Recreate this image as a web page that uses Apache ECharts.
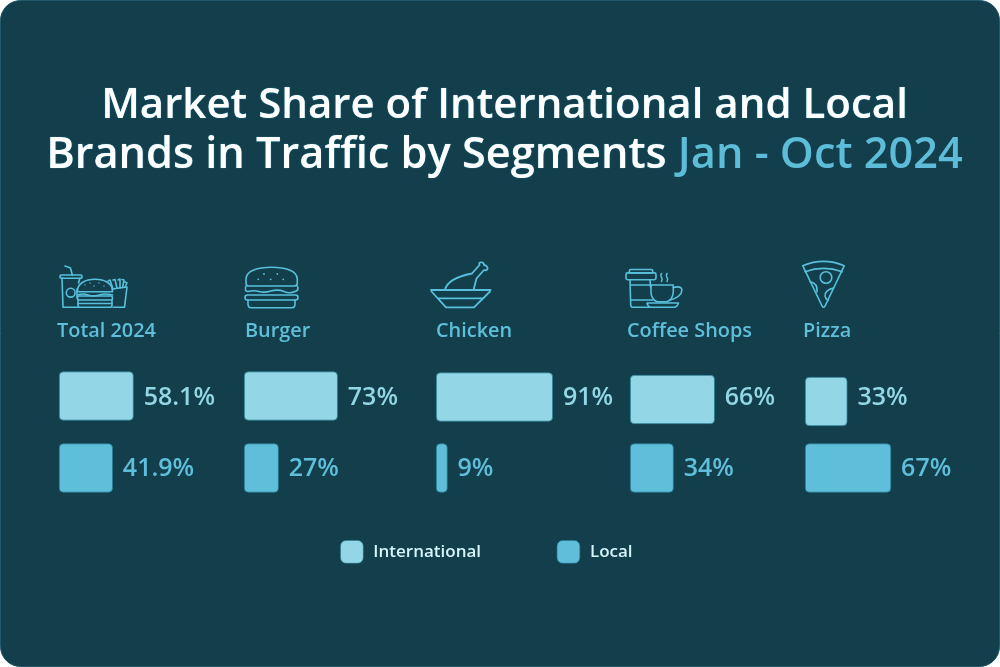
<!DOCTYPE html>
<html>
<head>
<meta charset="utf-8">
<style>html,body{margin:0;padding:0;background:#ffffff}#c{width:1000px;height:667px}</style>
<script src="https://cdn.jsdelivr.net/npm/echarts@6/dist/echarts.min.js"></script>
</head>
<body>
<div id="c"></div>
<script>
var segments = ['Total 2024', 'Burger', 'Chicken', 'Coffee Shops', 'Pizza'];
var groups = ['International', 'Local'];
var international = [58.1, 73, 91, 66, 33];
var local = [41.9, 27, 9, 34, 67];

var BG = '#133e4b', LIGHT = '#93d6e6', MID = '#5fbfda', ICON = '#58c0dc', EDGE = '#277a92';
var FONT = '"Open Sans","Noto Sans",sans-serif';
var panelLeft = [59, 244, 436, 630, 805];
var labelLeft = [57, 245, 436, 627, 803];
var rowTop = [371.5, 371.5, 372.5, 375, 377];
var localTop = 443.5;

function svg(x, y, w, h, body) {
  var s = '<svg xmlns="http://www.w3.org/2000/svg" width="' + w * 3 + '" height="' + h * 3 + '" viewBox="' + x + ' ' + y + ' ' + w + ' ' + h + '">' +
    '<g fill="none" stroke="' + ICON + '" stroke-width="1.6" stroke-linecap="round" stroke-linejoin="round">' + body + '</g></svg>';
  return { type: 'image', silent: true, x: x, y: y, style: { image: 'data:image/svg+xml;charset=utf-8,' + encodeURIComponent(s), x: 0, y: 0, width: w, height: h } };
}
function dots(list, r) {
  return list.map(function (p) { return '<circle cx="' + p[0] + '" cy="' + p[1] + '" r="' + r + '" fill="' + ICON + '" stroke="none"/>'; }).join('');
}
var icons = [
  svg(55, 260, 80, 52,
    '<path d="M65 266 L70.5 268 L72.3 275"/><rect x="60" y="275" width="22" height="3.2" rx="1.2"/>' +
    '<path d="M62 278 L63 307.3 L78 307.3 M80 278 L78.5 283"/><path d="M77 298 V289"/><circle cx="70.7" cy="292.7" r="4.4"/>' +
    '<path d="M77.5 291.7 C77 283 86 279.3 95 279.3 C104 279.3 113 283 112.5 291.7 Z"/>' +
    '<path d="M77.5 295 Q83 293 88 295 T99 295 T112.5 295"/><rect x="77.5" y="296" width="35" height="4" rx="1.8"/><path d="M78 300.5 V305 Q78 307.3 80 307.3 H110 Q112 307.3 112 305 V300.5"/><path d="M78 303.5 H112"/>' +
    dots([[85, 285], [90, 283], [94, 286], [99, 283], [104, 286]], 0.7) +
    '<path d="M112 289 L127 287 L124.5 307.3 L113 307.3"/>' +
    '<path d="M108 281 L110 280 L113 289 M113 280 L115 279.5 L117 288 M118 280 L120 279 L120 288 M122 279.5 L124 280 L122.5 287.5 M125 282 L127 283 L125 287"/>'),
  svg(240, 260, 66, 52,
    '<path d="M246 279 C246 270.5 258 267.3 271.5 267.3 C285 267.3 297.3 270.5 297.3 279 V283 Q297.3 286 294 286 H249 Q246 286 246 283 Z"/>' +
    '<path d="M247 285.5 H246.5 Q244.7 287.5 245.5 290 Q246 291.7 248 291.5 Q254 290 259 291.5 T271 291 T284 291.5 T295 291.5 Q298 291 298 288 Q298 286 296 285.5"/>' +
    '<rect x="245" y="295" width="53" height="5" rx="2.4"/><path d="M248 300 V304 Q248 307.7 251.5 307.7 H291.5 Q295 307.7 295 304 V300"/>' +
    dots([[264, 274], [277.3, 274], [258.3, 279.3], [270.7, 279.3], [283.3, 279.3]], 0.9)),
  svg(426, 258, 70, 52,
    '<path d="M431 290 H490.5 M431.5 291.5 L446 307.3 H474 L490 291.5 M438 298.3 H483.5" stroke-width="1.8"/>' +
    '<path d="M445 290 C447 280 459 276 472 273.5 L479.5 265 C478.5 263 480 262 481 262.5 C482.5 262 484 263 484 265 C486 265 488 267.5 487.5 269 C487 270.5 485 270.5 484 270 L476.5 278.5 L473.5 290" stroke-width="1.8"/>'),
  svg(620, 260, 70, 52,
    '<rect x="629.3" y="269.5" width="23.4" height="3.4" rx="1.4"/><rect x="626" y="272.9" width="30" height="6.8" rx="1.6"/>' +
    '<path d="M630 279.7 L630.7 305 Q630.8 307.3 633 307.3 H650 M650.5 287 L650 279.7 M630.3 285 H651 M630.6 300 H653"/>' +
    '<path d="M651 285 H673.3 V292 Q673 299 667 301.7 H657 Q651 299 651 292 Z"/>' +
    '<path d="M673.3 287.5 Q681.5 285.5 682 290 Q681.5 297 669 300.5"/>' +
    '<path d="M647 303 H678.5 Q677 307.3 674 307.3 H651 Q648 307.3 647 303 Z"/>' +
    '<path d="M661.5 273.5 Q660 275.5 661.5 277.5 T661.5 281.5 M667 273.5 Q665.5 275.5 667 277.5 T667 281.5"/>'),
  svg(795, 256, 60, 56,
    '<path d="M802.7 265.7 Q823.5 257 844.3 265.7 L824.8 306.5 Q823.6 308 822.3 306.5 Z"/>' +
    '<path d="M805 271.7 Q823.5 265 842.2 271.7"/><circle cx="826" cy="277.5" r="5.8"/>' +
    '<path d="M810 281.7 Q818 283 817 292"/><path d="M833.5 288 Q825 290 825 296 Q825.3 298.5 828 300.5"/>')
];

var chart = echarts.init(document.getElementById('c'));
var grids = [], xAxes = [], yAxes = [], series = [];
var titles = [{
  left: 499.5, top: 76, textAlign: 'center',
  text: '{l|Market Share of International and Local}\n{w|Brands in Traffic by Segments }{a|Jan - Oct 2024}',
  textStyle: {
    rich: {
      l: { color: '#ffffff', fontFamily: FONT, fontSize: 42, fontWeight: 600, lineHeight: 50, textShadowColor: '#46c3e6', textShadowBlur: 1 },
      w: { color: '#ffffff', fontFamily: FONT, fontSize: 43.3, fontWeight: 600, lineHeight: 50, textShadowColor: '#46c3e6', textShadowBlur: 1 },
      a: { color: '#5dbdd8', fontFamily: FONT, fontSize: 43.3, fontWeight: 600, lineHeight: 50 }
    }
  }
}];
function addBar(i, name, value, color, top, yOffset) {
  var g = grids.length;
  grids.push({ left: panelLeft[i], top: top, width: 128.5, height: 49 });
  xAxes.push({ gridIndex: g, type: 'value', min: 0, max: 100, show: false });
  yAxes.push({ gridIndex: g, type: 'category', data: [segments[i]], show: false });
  series.push({
    name: name, type: 'bar', xAxisIndex: g, yAxisIndex: g, barWidth: 49, data: [value],
    itemStyle: { color: color, borderRadius: 4, borderColor: EDGE, borderWidth: 0.7 },
    label: { show: true, position: 'right', distance: 10, offset: [0, yOffset], formatter: '{c}%', color: color, fontFamily: FONT, fontSize: 25, fontWeight: 600 },
    emphasis: { disabled: true }, animation: false
  });
}
segments.forEach(function (name, i) {
  titles.push({ left: labelLeft[i], top: 321, text: name, padding: 0, textStyle: { color: MID, fontFamily: FONT, fontSize: 19.9, fontWeight: 600 } });
  addBar(i, groups[0], international[i], LIGHT, rowTop[i], 398 - (rowTop[i] + 24.5));
  addBar(i, groups[1], local[i], MID, localTop, 1);
});

chart.setOption({
  animation: false,
  backgroundColor: 'transparent',
  title: titles,
  grid: grids, xAxis: xAxes, yAxis: yAxes, series: series,
  legend: {
    data: groups, left: 340, top: 540, itemWidth: 23, itemHeight: 23, itemGap: 75.5, icon: 'roundRect', padding: 0,
    itemStyle: { borderColor: '#1d6478', borderWidth: 0.7 },
    textStyle: { color: '#d6f4fa', fontFamily: FONT, fontSize: 17, fontWeight: 600, padding: [1, 0, 0, 5] },
    selectedMode: false
  },
  graphic: { elements: [{
    type: 'rect', silent: true, z: -10, zlevel: 0,
    shape: { x: 0.5, y: 0.5, width: 999, height: 666, r: 20 },
    style: { fill: BG, stroke: '#1f5a6c', lineWidth: 1 }
  }].concat(icons) }
});
</script>
</body>
</html>
